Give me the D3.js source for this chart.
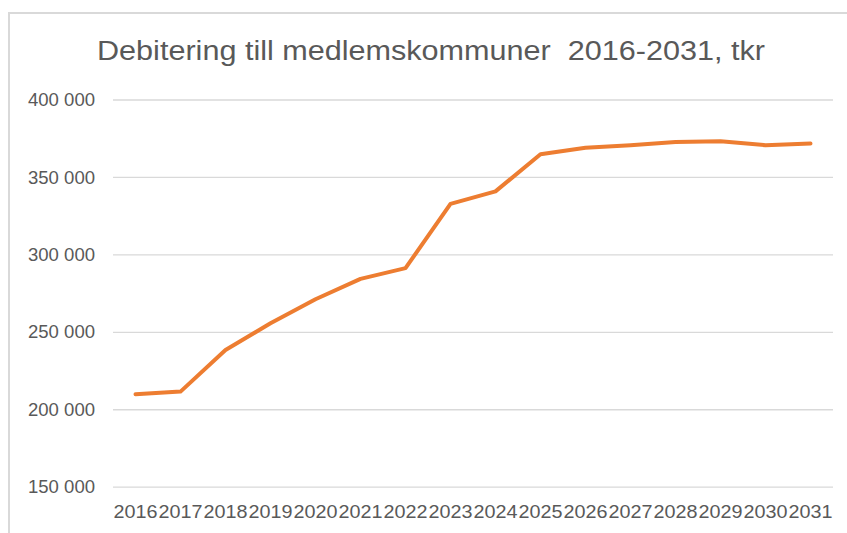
<!DOCTYPE html>
<html>
<head>
<meta charset="utf-8">
<script src="https://cdn.jsdelivr.net/npm/d3@7"></script>
<style>
  html, body { margin: 0; padding: 0; background: #fff; }
  svg { display: block; }
</style>
</head>
<body>
<div id="chart"></div>
<script>
const TITLE = "Debitering till medlemskommuner  2016-2031, tkr";
const years = ["2016", "2017", "2018", "2019", "2020", "2021", "2022", "2023",
  "2024", "2025", "2026", "2027", "2028", "2029", "2030", "2031"];
const debitering = [209700, 211400, 238300, 255500, 271000, 284200, 291100, 332600,
  340700, 364600, 368900, 370400, 372500, 373100, 370500, 371600];
const yTicks = [150000, 200000, 250000, 300000, 350000, 400000];

const WIDTH = 847;
const HEIGHT = 533;
const PLOT = { left: 113, right: 833, top: 99.5, bottom: 486.7 };
const TEXT_COLOR = "#595959";
const GRID_COLOR = "#d9d9d9";
const LINE_COLOR = "#ed7d31";
const FONT = "'Liberation Sans', Arial, sans-serif";

const svLocale = d3.formatLocale({ decimal: ",", thousands: " ", grouping: [3], currency: ["", " kr"] });
const formatTick = svLocale.format(",d");

const svg = d3.select("#chart")
  .append("svg")
  .attr("width", WIDTH)
  .attr("height", HEIGHT)
  .attr("viewBox", `0 0 ${WIDTH} ${HEIGHT}`);

// chart frame, runs off the right and bottom edge like the screenshot
svg.append("rect")
  .attr("x", 9)
  .attr("y", 13)
  .attr("width", WIDTH + 20)
  .attr("height", HEIGHT + 20)
  .attr("fill", "#fff")
  .attr("stroke", GRID_COLOR)
  .attr("stroke-width", 2);

svg.append("text")
  .attr("x", 431)
  .attr("y", 60)
  .attr("text-anchor", "middle")
  .attr("font-family", FONT)
  .attr("font-size", 27)
  .attr("fill", TEXT_COLOR)
  .attr("textLength", 668)
  .attr("lengthAdjust", "spacingAndGlyphs")
  .style("white-space", "pre")
  .text(TITLE);

const x = d3.scaleBand()
  .domain(years)
  .range([PLOT.left, PLOT.right])
  .padding(0);

const y = d3.scaleLinear()
  .domain([150000, 400000])
  .range([PLOT.bottom, PLOT.top]);

const yAxis = svg.append("g")
  .attr("class", "y-axis")
  .call(d3.axisLeft(y)
    .tickValues(yTicks)
    .tickFormat(formatTick)
    .tickSize(-(PLOT.right - PLOT.left))
    .tickPadding(18))
  .attr("transform", `translate(${PLOT.left},0)`);

yAxis.select(".domain").remove();
yAxis.selectAll(".tick line")
  .attr("stroke", GRID_COLOR)
  .attr("stroke-width", 1.3);
yAxis.selectAll(".tick text")
  .attr("font-family", FONT)
  .attr("font-size", 19)
  .attr("fill", TEXT_COLOR)
  .attr("textLength", 67)
  .attr("lengthAdjust", "spacingAndGlyphs");

const xAxis = svg.append("g")
  .attr("class", "x-axis")
  .attr("transform", `translate(0,${PLOT.bottom})`)
  .call(d3.axisBottom(x).tickSize(0).tickPadding(18));

xAxis.select(".domain").remove();
xAxis.selectAll(".tick text")
  .attr("font-family", FONT)
  .attr("font-size", 19)
  .attr("fill", TEXT_COLOR)
  .attr("textLength", 44)
  .attr("lengthAdjust", "spacingAndGlyphs");

const line = d3.line()
  .x((d, i) => x(years[i]) + x.bandwidth() / 2)
  .y((d) => y(d));

svg.append("path")
  .datum(debitering)
  .attr("d", line)
  .attr("fill", "none")
  .attr("stroke", LINE_COLOR)
  .attr("stroke-width", 4)
  .attr("stroke-linejoin", "round")
  .attr("stroke-linecap", "round");
</script>
</body>
</html>
